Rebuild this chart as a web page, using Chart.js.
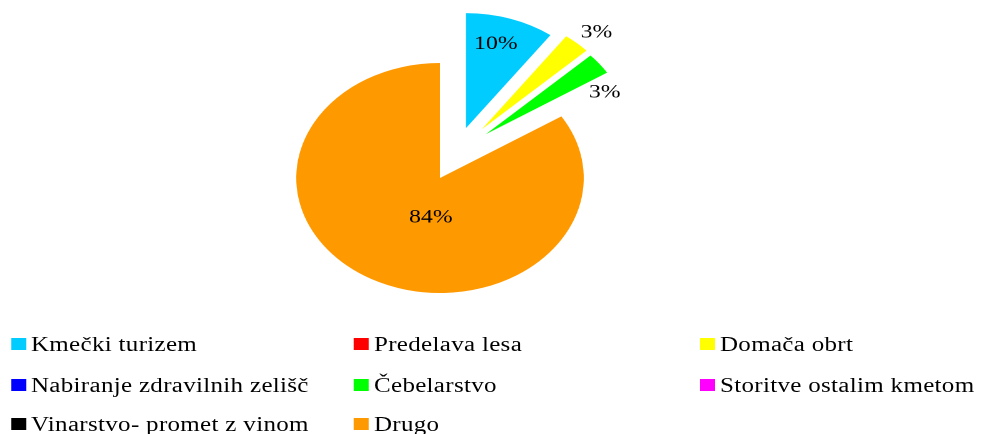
<!DOCTYPE html>
<html>
<head>
<meta charset="utf-8">
<script src="https://cdn.jsdelivr.net/npm/chart.js@4.4.0/dist/chart.umd.min.js"></script>
<style>
    html, body { margin: 0; padding: 0; background: #fff; overflow: hidden; }
    /* the original picture is stretched sideways, so draw narrow and widen it */
    #wrap { position: relative; width: 785px; height: 434px; transform: scaleX(1.25); transform-origin: 0 0; }
    #pie { position: absolute; left: 0; top: 0; width: 785px; height: 434px; }
    .item { position: absolute; display: flex; align-items: center; height: 20px; line-height: 20px;
            font-family: "Liberation Serif", "Times New Roman", serif; font-size: 20px; letter-spacing: 0.25px;
            color: #000; white-space: nowrap; }
    .item .box { width: 12px; height: 12px; margin-right: 4px; flex: none; }
</style>
</head>
<body>
<div id="wrap">
    <canvas id="pie" width="785" height="434"></canvas>
    <div id="legend"></div>
</div>
<script>
const categories = [
    'Kmečki turizem',
    'Predelava lesa',
    'Domača obrt',
    'Nabiranje zdravilnih zelišč',
    'Čebelarstvo',
    'Storitve ostalim kmetom',
    'Vinarstvo- promet z vinom',
    'Drugo'
];
const shares = [10, 0, 3, 0, 3, 0, 0, 84];
const colours = ['#00CCFF', '#FF0000', '#FFFF00', '#0000FF', '#00FF00', '#FF00FF', '#000000', '#FF9900'];

const DEG = Math.PI / 180;

// where a slice's tip ends up after being pulled out
function explodedTip(arc, ds, i) {
    const dir = (arc.startAngle + arc.endAngle) / 2 + (ds.explodeShift[i] || 0) * DEG;
    const push = ds.explode[i] || 0;
    return { dx: Math.cos(dir) * push, dy: Math.sin(dir) * push };
}

// Pull selected slices away from the centre
const explodePlugin = {
    id: 'explode',
    beforeDatasetsDraw(chart) {
        const ds = chart.data.datasets[0];
        chart.getDatasetMeta(0).data.forEach((arc, i) => {
            const baseDraw = Object.getPrototypeOf(arc).draw;
            arc.draw = function (ctx, area) {
                const t = explodedTip(this, ds, i);
                ctx.save();
                ctx.translate(t.dx, t.dy);
                baseDraw.call(this, ctx, area);
                ctx.restore();
            };
        });
    }
};

// Percent labels on / beside the slices
const sliceLabels = {
    id: 'sliceLabels',
    afterDatasetsDraw(chart) {
        const ds = chart.data.datasets[0];
        const ctx = chart.ctx;
        ctx.save();
        ctx.font = '19px "Liberation Serif", "Times New Roman", serif';
        ctx.fillStyle = '#000';
        ctx.textAlign = 'center';
        ctx.textBaseline = 'middle';
        chart.getDatasetMeta(0).data.forEach((arc, i) => {
            const v = ds.data[i];
            if (!v) return;
            const mid = (arc.startAngle + arc.endAngle) / 2;
            const t = explodedTip(arc, ds, i);
            const a = mid + ds.labelShift[i] * DEG;
            const r = arc.outerRadius * ds.labelRadius[i];
            ctx.fillText(v + '%', arc.x + t.dx + Math.cos(a) * r, arc.y + t.dy + Math.sin(a) * r);
        });
        ctx.restore();
    }
};

new Chart(document.getElementById('pie'), {
    type: 'pie',
    data: {
        labels: categories,
        datasets: [{
            data: shares,
            backgroundColor: colours,
            borderWidth: 0,
            offset: 0,
            hoverOffset: 0,
            clip: false,
            explode: [54, 0, 59, 0, 57, 0, 0, 0],
            explodeShift: [4.6, 0, -7, 0, -12.3, 0, 0, 0],
            labelRadius: [0.76, 0, 1.16, 0, 0.905, 0, 0, 0.35],
            labelShift: [-2.1, 0, 2.1, 0, 14, 0, 0, -18.3]
        }]
    },
    options: {
        responsive: false,
        animation: false,
        devicePixelRatio: 2,
        radius: 115,
        layout: { padding: { left: 0, top: 0, right: 81, bottom: 78 } },
        plugins: {
            legend: { display: false },
            tooltip: { enabled: false }
        }
    },
    plugins: [explodePlugin, sliceLabels]
});

// Legend: three columns, filled row by row
const colLeft = [8.8, 283.2, 560];
const rowTop = [334, 374.5, 414];
const legend = document.getElementById('legend');
categories.forEach((name, i) => {
    const item = document.createElement('div');
    item.className = 'item';
    item.style.left = colLeft[i % 3] + 'px';
    item.style.top = rowTop[Math.floor(i / 3)] + 'px';
    item.innerHTML = `<span class="box" style="background:${colours[i]}"></span><span>${name}</span>`;
    legend.appendChild(item);
});
</script>
</body>
</html>
